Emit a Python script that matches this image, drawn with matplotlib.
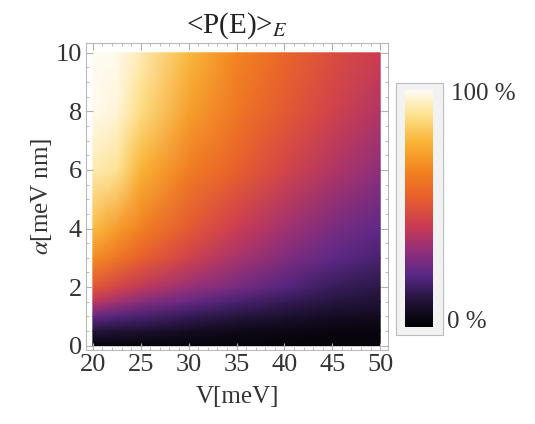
import numpy as np
import matplotlib
matplotlib.use('Agg')
import matplotlib.pyplot as plt
from matplotlib.colors import LinearSegmentedColormap

plt.rcParams['font.family'] = ['Liberation Serif', 'DejaVu Serif']
plt.rcParams['mathtext.fontset'] = 'stix'

# grid, values are fractions of 100 %
V = [20, 22.5, 25, 30, 35, 40, 45, 50]
alpha = [0, 0.5, 1, 1.5, 2, 3, 4, 6, 8, 10]
# one column per V value, from alpha = 0 up to alpha = 10
P_V20 = [0.02, 0.12, 0.24, 0.40, 0.52, 0.68, 0.80, 0.93, 0.99, 1.00]
P_V22 = [0.02, 0.10, 0.21, 0.35, 0.46, 0.62, 0.72, 0.90, 0.97, 0.99]
P_V25 = [0.02, 0.09, 0.19, 0.30, 0.41, 0.55, 0.65, 0.78, 0.88, 0.93]
P_V30 = [0.02, 0.07, 0.15, 0.24, 0.33, 0.45, 0.53, 0.64, 0.73, 0.79]
P_V35 = [0.02, 0.05, 0.12, 0.19, 0.27, 0.36, 0.43, 0.55, 0.62, 0.66]
P_V40 = [0.02, 0.04, 0.09, 0.15, 0.21, 0.29, 0.35, 0.46, 0.53, 0.57]
P_V45 = [0.02, 0.03, 0.07, 0.12, 0.16, 0.23, 0.28, 0.38, 0.45, 0.49]
P_V50 = [0.02, 0.03, 0.06, 0.10, 0.13, 0.19, 0.23, 0.31, 0.38, 0.43]

# something like Mathematica's SunsetColors
sunset = LinearSegmentedColormap.from_list('sunset', [
    (0.00, '#000000'),
    (0.12, '#261640'),
    (0.22, '#5a2888'),
    (0.33, '#983078'),
    (0.43, '#cc3c52'),
    (0.55, '#e8602c'),
    (0.66, '#f38420'),
    (0.78, '#f9b436'),
    (0.89, '#fde088'),
    (1.00, '#fffcf4'),
])

P = np.array([P_V20, P_V22, P_V25, P_V30, P_V35, P_V40, P_V45, P_V50]).T

fig = plt.figure(figsize=(5.35, 4.24), dpi=100)
ax = fig.add_axes([0.161, 0.175, 0.564, 0.724])

X, Y = np.meshgrid(V, alpha)
ax.pcolormesh(X, Y, P, cmap=sunset, vmin=0, vmax=1, shading='gouraud')

ax.set_xlim(19.3, 50.8)
ax.set_ylim(-0.14, 10.34)
ax.set_xticks(range(20, 51, 5))
ax.set_yticks(range(0, 11, 2))
ax.set_xticks(np.arange(20, 51, 1), minor=True)
ax.set_yticks(np.arange(0, 10.01, 0.5), minor=True)

for sp in ax.spines.values():
    sp.set_color('#b8b8b8')
    sp.set_linewidth(0.8)
ax.tick_params(which='both', direction='in', color='#b0b0b0', top=True, right=True,
               labelsize=19, labelcolor='#333333', pad=3)
ax.tick_params(which='major', length=5)
ax.tick_params(which='minor', length=2.5)

ax.set_xlabel('V[meV]', fontsize=18, color='#333333', labelpad=7)
ax.set_ylabel(r'$\alpha$[meV nm]', fontsize=18, color='#333333', labelpad=1)
ax.set_title(r'<P(E)>$_E$', fontsize=21, color='#222222', pad=7)

# colorbar with its light frame
frame = fig.add_axes([396 / 535, 1 - 335 / 424, 47 / 535, 252 / 424])
frame.set_facecolor('#f2f2f2')
frame.set_xticks([])
frame.set_yticks([])
for sp in frame.spines.values():
    sp.set_color('#bdbdbd')
    sp.set_linewidth(0.8)

cax = fig.add_axes([405 / 535, 1 - 327 / 424, 28 / 535, 237 / 424])
grad = np.linspace(0, 1, 256).reshape(-1, 1)
cax.imshow(grad, aspect='auto', origin='lower', cmap=sunset)
cax.set_xticks([])
cax.set_yticks([])
for sp in cax.spines.values():
    sp.set_visible(False)

fig.text(451 / 535, 1 - 94 / 424, '100 %', fontsize=18, color='#333333', va='center')
fig.text(447 / 535, 1 - 322 / 424, '0 %', fontsize=18, color='#333333', va='center')

fig.savefig('out.png', dpi=100)
